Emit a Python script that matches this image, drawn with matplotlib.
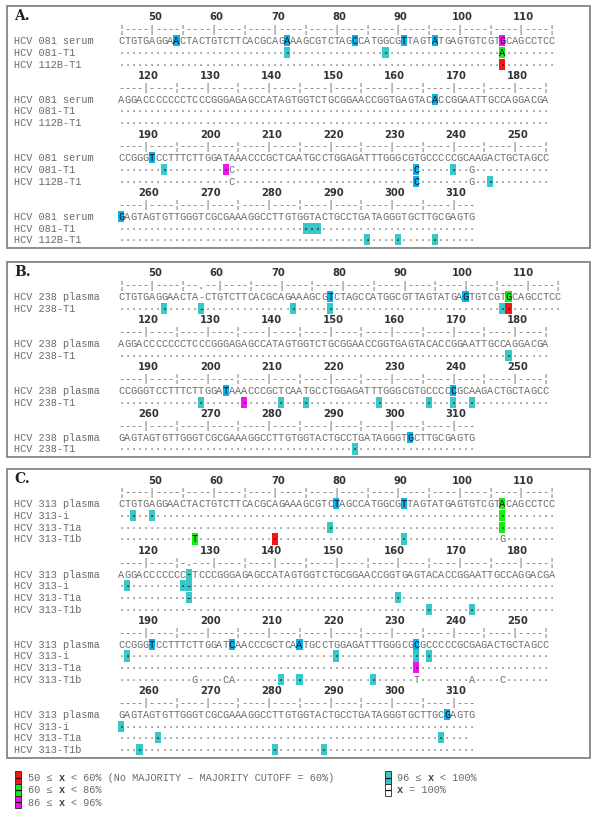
import matplotlib.pyplot as plt
from matplotlib.patches import Rectangle

### HCV 5'UTR alignments: consensus vs clones, shaded by conservation class

# first position of each wrapped line
line_starts = [45, 116, 186, 256]

# ---- panel A ----
A_names = ['HCV 081 serum', 'HCV 081-T1', 'HCV 112B-T1']
A_cons = ['CTGTGAGGAACTACTGTCTTCACGCAGAAAGCGTCTAGCCATGGCGTTAGTATGAGTGTCGTGCAGCCTCC',
          'AGGACCCCCCCTCCCGGGAGAGCCATAGTGGTCTGCGGAACCGGTGAGTACACCGGAATTGCCAGGACGA',
          'CCGGGTCCTTTCTTGGATAAACCCGCTCAATGCCTGGAGATTTGGGCGTGCCCCCGCAAGACTGCTAGCC',
          'GAGTAGTGTTGGGTCGCGAAAGGCCTTGTGGTACTGCCTGATAGGGTGCTTGCGAGTG']
# (line, row, column, base) where a clone differs from the consensus
A_subs = [(0, 1, 62, 'A'),
          (2, 1, 18, 'C'), (2, 1, 48, 'C'), (2, 1, 57, 'G'),
          (2, 2, 18, 'C'), (2, 2, 48, 'C'), (2, 2, 57, 'G')]
# (line, row, column, class) shaded cells
A_marks = [(0, 0, 9, 'b'), (0, 0, 27, 'b'), (0, 0, 38, 'b'), (0, 0, 46, 'b'), (0, 0, 51, 'b'),
           (0, 0, 62, 'm'), (0, 1, 27, 't'), (0, 1, 43, 't'), (0, 1, 62, 'g'), (0, 2, 62, 'r'),
           (1, 0, 51, 'b'),
           (2, 0, 5, 'b'), (2, 1, 7, 't'), (2, 1, 17, 'm'), (2, 1, 48, 'b'), (2, 1, 54, 't'),
           (2, 2, 48, 'b'), (2, 2, 60, 't'),
           (3, 0, 0, 'b'), (3, 1, 30, 't'), (3, 1, 31, 't'), (3, 1, 32, 't'),
           (3, 2, 40, 't'), (3, 2, 45, 't'), (3, 2, 51, 't')]

# ---- panel B ----
B_names = ['HCV 238 plasma', 'HCV 238-T1']
B_cons = ['CTGTGAGGAACTA-CTGTCTTCACGCAGAAAGCGTCTAGCCATGGCGTTAGTATGAGTGTCGTGCAGCCTCC',
          'AGGACCCCCCCTCCCGGGAGAGCCATAGTGGTCTGCGGAACCGGTGAGTACACCGGAATTGCCAGGACGA',
          'CCGGGTCCTTTCTTGGATAAACCCGCTCAATGCCTGGAGATTTGGGCGTGCCCCCGCAAGACTGCTAGCC',
          'GAGTAGTGTTGGGTCGCGAAAGGCCTTGTGGTACTGCCTGATAGGGTGCTTGCGAGTG']
B_subs = [(0, 1, 13, '-')]
B_marks = [(0, 0, 34, 'b'), (0, 0, 56, 'b'), (0, 0, 63, 'g'),
           (0, 1, 7, 't'), (0, 1, 13, 't'), (0, 1, 28, 't'), (0, 1, 34, 't'), (0, 1, 62, 't'),
           (0, 1, 63, 'r'),
           (1, 1, 63, 't'),
           (2, 0, 17, 'b'), (2, 0, 54, 'b'), (2, 1, 13, 't'), (2, 1, 20, 'm'), (2, 1, 26, 't'),
           (2, 1, 30, 't'), (2, 1, 42, 't'), (2, 1, 50, 't'), (2, 1, 54, 't'), (2, 1, 57, 't'),
           (3, 0, 47, 'b'), (3, 1, 38, 't')]

# ---- panel C ----
C_names = ['HCV 313 plasma', 'HCV 313-i', 'HCV 313-T1a', 'HCV 313-T1b']
C_cons = ['CTGTGAGGAACTACTGTCTTCACGCAGAAAGCGTCTAGCCATGGCGTTAGTATGAGTGTCGTACAGCCTCC',
          'AGGACCCCCCC-TCCCGGGAGAGCCATAGTGGTCTGCGGAACCGGTGAGTACACCGGAATTGCCAGGACGA',
          'CCGGGTCCTTTCTTGGATCAACCCGCTCAATGCCTGGAGATTTGGGCGCGCCCCCGCGAGACTGCTAGCC',
          'GAGTAGTGTTGGGTCGCGAAAGGCCTTGTGGTACTGCCTGATAGGGTGCTTGCGAGTG']
C_subs = [(0, 3, 12, 'T'), (0, 3, 62, 'G'),
          (1, 1, 11, '-'), (1, 2, 11, '-'), (1, 3, 11, '-'),
          (2, 3, 12, 'G'), (2, 3, 17, 'C'), (2, 3, 18, 'A'), (2, 3, 48, 'T'),
          (2, 3, 57, 'A'), (2, 3, 62, 'C')]
C_marks = [(0, 0, 35, 'b'), (0, 0, 46, 'b'), (0, 0, 62, 'g'), (0, 1, 62, 'g'), (0, 2, 62, 'g'),
           (0, 1, 2, 't'), (0, 1, 5, 't'), (0, 2, 34, 't'),
           (0, 3, 12, 'g'), (0, 3, 25, 'r'), (0, 3, 46, 't'),
           (1, 0, 11, 't'), (1, 1, 1, 't'), (1, 1, 10, 't'), (1, 1, 11, 't'), (1, 2, 11, 't'),
           (1, 2, 45, 't'), (1, 3, 50, 't'), (1, 3, 57, 't'),
           (2, 0, 5, 'b'), (2, 0, 18, 'b'), (2, 0, 29, 'b'), (2, 0, 48, 'b'),
           (2, 1, 1, 't'), (2, 1, 35, 't'), (2, 1, 48, 't'), (2, 1, 50, 't'),
           (2, 2, 48, 'm'), (2, 3, 26, 't'), (2, 3, 29, 't'), (2, 3, 41, 't'),
           (3, 0, 53, 'b'), (3, 1, 0, 't'), (3, 2, 6, 't'), (3, 2, 52, 't'),
           (3, 3, 3, 't'), (3, 3, 25, 't'), (3, 3, 33, 't')]
C_short = [(3, 2, 57)]   # T1a last line is one base shorter

# legend classes
legend_lo = [50, 60, 86, 96]
legend_hi = [60, 86, 96, 100]
legend_cls = ['r', 'g', 'm', 't']
cutoff_note = '(No MAJORITY \u2013 MAJORITY CUTOFF = 60%)'

shade = {'b': '#08b2ec', 't': '#38c8c8', 'r': '#f81414', 'g': '#14ee14', 'm': '#f014f0'}

MONO = ['Liberation Mono', 'DejaVu Sans Mono']
FS = 7.38
CW = 0.6 * FS * 100 / 72   # width of one character cell in px
LH = 11.7                  # line height in px
X0 = 118                   # left edge of alignment column 0
XN = 14                    # left edge of the names
GREY = '#6a6a6a'

fig = plt.figure(figsize=(6, 8.27), dpi=100)
ax = fig.add_axes([0, 0, 1, 1])
ax.set_xlim(0, 600)
ax.set_ylim(827, 0)
ax.axis('off')


def ruler(seq, p0):
    out = ''
    pos = p0
    for ch in seq:
        if ch == '-':
            out += '.'
            continue
        if pos % 10 == 0:
            out += '|'
        elif pos % 5 == 0:
            out += '\u00a6'
        else:
            out += '-'
        pos += 1
    return out


def put_chars(s, y, dark=()):
    for i, ch in enumerate(s):
        if ch == ' ':
            continue
        ax.text(X0 + (i + 0.5) * CW, y + 3.4, ch, family=MONO, size=FS,
                color='#111111' if i in dark else GREY, ha='center', va='baseline', zorder=3)


def draw_panel(letter, names, cons, subs, marks, y_top, short=()):
    n = len(names)
    y_first = y_top + 12
    last = y_first + (4 * (n + 2) - 1) * LH
    ax.add_patch(Rectangle((7, y_top), 583, last + 8 - y_top, fill=False,
                           edgecolor='#7a7a7a', lw=1.2, zorder=1))
    ax.text(XN, y_first - 1.5, letter, family='DejaVu Serif', size=10, weight='bold',
            color='#222222', va='center', ha='left')
    for li, seq in enumerate(cons):
        yl = y_first + li * (n + 2) * LH
        p0 = line_starts[li]
        for k in range(len(seq)):
            if (p0 + k) % 10 == 0:
                ax.text(X0 + (k + 0.5) * CW + 3, yl, str(p0 + k), family='DejaVu Sans',
                        size=7.2, weight='bold', color='#333333', ha='center', va='center')
        put_chars(ruler(seq, p0), yl + LH)

        rows = [list(seq)] + [list('\u00b7' * len(seq)) for _ in range(n - 1)]
        for (l, r, c, b) in subs:
            if l == li:
                rows[r][c] = b
        for (l, r, ln) in short:
            if l == li:
                rows[r] = rows[r][:ln]
        for r in range(n):
            y = yl + (2 + r) * LH
            ax.text(XN, y + 3.4, names[r], family=MONO, size=FS, color=GREY,
                    ha='left', va='baseline')
            dark = []
            for (l, rr, c, cls) in marks:
                if l == li and rr == r:
                    ax.add_patch(Rectangle((X0 + c * CW, y - LH / 2 + 0.3), CW, LH - 0.6,
                                           facecolor=shade[cls], edgecolor='none', zorder=2))
                    dark.append(c)
            put_chars(''.join(rows[r]), y, dark)


draw_panel('A.', A_names, A_cons, A_subs, A_marks, 5.5)
draw_panel('B.', B_names, B_cons, B_subs, B_marks, 261.5)
draw_panel('C.', C_names, C_cons, C_subs, C_marks, 468.5, C_short)

# ---- legend ----
LY0, LS = 777.5, 12.4
for i in range(len(legend_lo)):
    if i < 3:
        bx, tx, y = 15, 28, LY0 + i * LS
    else:
        bx, tx, y = 385, 397, LY0
    ax.add_patch(Rectangle((bx, y - LS / 2), 6, LS, facecolor=shade[legend_cls[i]],
                           edgecolor='#222222', lw=0.6))
    ax.plot([bx + 1, bx + 5], [y, y], color='#111111', lw=0.9)
    s = '%d \u2264   < %d%%' % (legend_lo[i], legend_hi[i])
    if i == 0:
        s += ' ' + cutoff_note
    ax.text(tx, y + 3.4, s, family=MONO, size=FS, color=GREY, ha='left', va='baseline')
    ax.text(tx + 5 * CW, y + 3.4, 'x', family=MONO, size=FS, weight='bold',
            color='#444444', ha='left', va='baseline')

# 100% class: plain white box
y = LY0 + LS
ax.add_patch(Rectangle((385, y - LS / 2), 6, LS, facecolor='white', edgecolor='#222222', lw=0.6))
ax.plot([386, 390], [y, y], color='#111111', lw=0.9)
ax.text(397, y + 3.4, 'x', family=MONO, size=FS, weight='bold', color='#444444',
        ha='left', va='baseline')
ax.text(397 + CW, y + 3.4, ' = 100%', family=MONO, size=FS, color=GREY,
        ha='left', va='baseline')

fig.savefig('out.png', dpi=100)
